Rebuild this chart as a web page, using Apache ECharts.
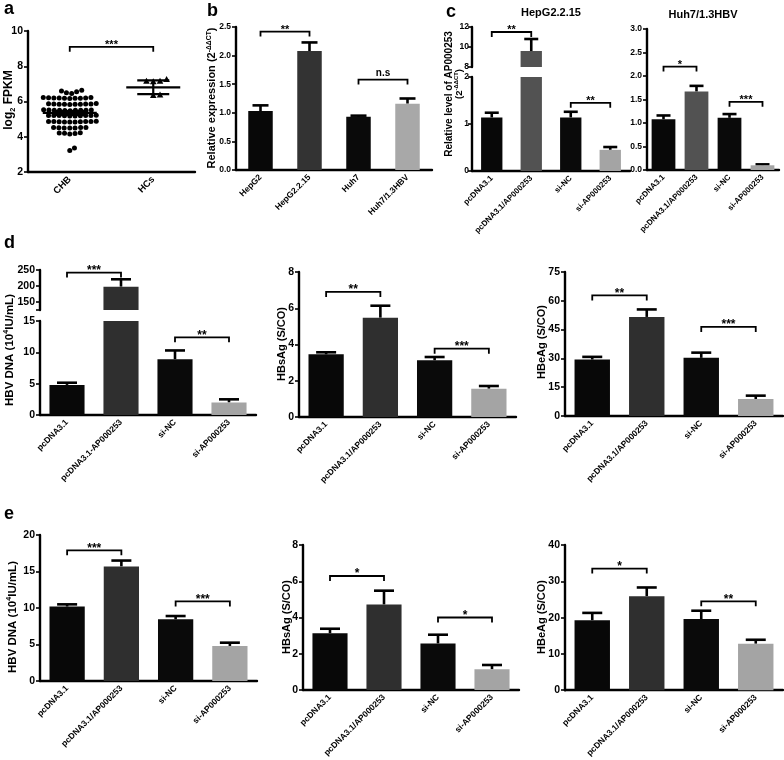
<!DOCTYPE html>
<html>
<head>
<meta charset="utf-8">
<script src="https://cdn.jsdelivr.net/npm/echarts@6/dist/echarts.min.js"></script>
<style>
  html, body { margin: 0; padding: 0; background: #fff; }
  #chart { width: 784px; height: 760px; }
</style>
</head>
<body>
<div id="chart"></div>
<script>
const FONT = 'Liberation Sans, Arial, sans-serif';

// a: log2 FPKM scatter
const aCats = ['CHB', 'HCs'];
const chbValues = [
  6.64, 6.56, 6.49, 6.45, 6.6,
  6.2, 6.18, 6.22, 6.19, 6.21, 6.17, 6.2, 6.23, 6.18, 6.2,
  5.86, 5.84, 5.88, 5.85, 5.83, 5.87, 5.85, 5.86, 5.84, 5.86,
  5.52, 5.5, 5.53, 5.49, 5.51, 5.5, 5.52, 5.48, 5.51, 5.5,
  5.2, 5.18, 5.21, 5.19, 5.22, 5.2, 5.18, 5.2, 5.21, 5.19,
  4.86, 4.84, 4.87, 4.85, 4.88, 4.85, 4.83, 4.86, 4.84, 4.86,
  4.52, 4.5, 4.53, 4.49, 4.51, 4.5, 4.52,
  4.22, 4.2, 4.18, 4.21, 4.15,
  3.36, 3.22
];
const hcsValues = [7.25, 7.15, 7.12, 7.15, 6.38, 6.35];
const chbSummary = [5.35, 5.24, 5.46];   // mean, low, high
const hcsSummary = [6.8, 6.42, 7.2];
const aBrackets = [[0, 1, 9.1, '***']];

// b: relative expression
const bCats = ['HepG2', 'HepG2.2.15', 'Huh7', 'Huh7/1.3HBV'];
const bMeans = [1.03, 2.08, 0.93, 1.16];
const bErrTop = [1.13, 2.23, 0.95, 1.25];
const bBrackets = [[0, 1, 2.42, '**'], [2, 3, 1.58, 'n.s']];

// c: AP000253 level
const cCats = ['pcDNA3.1', 'pcDNA3.1/AP000253', 'si-NC', 'si-AP000253'];
const cHepMeans = [1.14, 9.6, 1.14, 0.45];
const cHepErrTop = [1.24, 10.8, 1.26, 0.51];
const cHepBracketsTop = [[0, 1, 11.5, '**']];
const cHepBracketsLow = [[2, 3, 1.45, '**']];
const cHuhMeans = [1.08, 1.67, 1.11, 0.1];
const cHuhErrTop = [1.16, 1.79, 1.19, 0.12];
const cHuhBrackets = [[0, 1, 2.2, '*'], [2, 3, 1.45, '***']];

// d
const dCats1 = ['pcDNA3.1', 'pcDNA3.1-AP000253', 'si-NC', 'si-AP000253'];
const dCats = ['pcDNA3.1', 'pcDNA3.1/AP000253', 'si-NC', 'si-AP000253'];
const dDnaMeans = [4.8, 198, 8.9, 2.0];
const dDnaErrTop = [5.15, 221, 10.3, 2.5];
const dDnaBracketsTop = [[0, 1, 242, '***']];
const dDnaBracketsLow = [[2, 3, 12.4, '**']];
const dHbsMeans = [3.46, 5.48, 3.13, 1.56];
const dHbsErrTop = [3.57, 6.14, 3.31, 1.71];
const dHbsBrackets = [[0, 1, 6.9, '**'], [2, 3, 3.77, '***']];
const dHbeMeans = [29.4, 51.6, 30.3, 8.8];
const dHbeErrTop = [30.8, 55.5, 33, 10.6];
const dHbeBrackets = [[0, 1, 62.8, '**'], [2, 3, 46.4, '***']];

// e
const eDnaMeans = [10.2, 15.7, 8.45, 4.8];
const eDnaErrTop = [10.5, 16.5, 8.9, 5.25];
const eDnaBrackets = [[0, 1, 17.9, '***'], [2, 3, 10.9, '***']];
const eHbsMeans = [3.13, 4.72, 2.57, 1.14];
const eHbsErrTop = [3.38, 5.48, 3.05, 1.38];
const eHbsBrackets = [[0, 1, 6.29, '*'], [2, 3, 4.0, '*']];
const eHbeMeans = [19.3, 25.9, 19.6, 12.8];
const eHbeErrTop = [21.3, 28.3, 21.9, 13.9];
const eHbeBrackets = [[0, 1, 33.5, '*'], [2, 3, 24.5, '**']];

const barColors = ['#080808', '#2f2f2f', '#0a0a0a', '#a4a4a4'];
const barColorsB = ['#080808', '#333333', '#0a0a0a', '#a8a8a8'];
const barColorsC = ['#080808', '#525252', '#0a0a0a', '#a4a4a4'];

const grids = [], xAxes = [], yAxes = [], series = [], graphics = [];

function addGrid(rect, xAxis, yAxis) {
  const gi = grids.length;
  grids.push(rect);
  xAxes.push(Object.assign({ gridIndex: gi }, xAxis));
  yAxes.push(Object.assign({ gridIndex: gi }, yAxis));
  return gi;
}

function catAxis(cats, fontSize, show) {
  return {
    type: 'category', data: cats, show: show !== false,
    axisLine: { onZero: false, lineStyle: { color: '#000', width: 2.4 } },
    axisTick: { alignWithLabel: true, length: 4, lineStyle: { color: '#000', width: 1.6 } },
    axisLabel: { rotate: 45, interval: 0, margin: 6, fontSize: fontSize, fontWeight: 'bold', color: '#000', fontFamily: FONT },
    splitLine: { show: false }
  };
}

function valAxis(min, max, interval, fontSize, formatter, extra) {
  return Object.assign({
    type: 'value', min: min, max: max, interval: interval,
    splitLine: { show: false },
    axisLine: { show: true, onZero: false, lineStyle: { color: '#000', width: 2.4 } },
    axisTick: { show: true, length: 4, lineStyle: { color: '#000', width: 1.6 } },
    axisLabel: { margin: 5, fontSize: fontSize, fontWeight: 'bold', color: '#000', fontFamily: FONT, formatter: formatter }
  }, extra || {});
}

function bars(gi, vals, colors, width) {
  series.push({
    type: 'bar', xAxisIndex: gi, yAxisIndex: gi, barWidth: width, clip: true, silent: true,
    data: vals.map((v, i) => ({ value: v, itemStyle: { color: colors[i] } }))
  });
}

function errs(gi, vals, tops, cap, lo, hi) {
  const data = [];
  vals.forEach((v, i) => { if (v >= lo && tops[i] <= hi) data.push([i, v, tops[i]]); });
  series.push({
    type: 'custom', xAxisIndex: gi, yAxisIndex: gi, silent: true, data: data,
    renderItem: (params, api) => {
      const p0 = api.coord([api.value(0), api.value(1)]);
      const p1 = api.coord([api.value(0), api.value(2)]);
      const st = { stroke: '#000', lineWidth: 2.6 };
      return { type: 'group', children: [
        { type: 'line', shape: { x1: p0[0], y1: p0[1], x2: p1[0], y2: p1[1] }, style: st },
        { type: 'line', shape: { x1: p1[0] - cap, y1: p1[1], x2: p1[0] + cap, y2: p1[1] }, style: st }
      ] };
    }
  });
}

function brackets(gi, list, fontSize) {
  series.push({
    type: 'custom', xAxisIndex: gi, yAxisIndex: gi, silent: true,
    data: list.map(b => [b[0], b[1], b[2]]),
    renderItem: (params, api) => {
      const a = api.coord([api.value(0), api.value(2)]);
      const b = api.coord([api.value(1), api.value(2)]);
      const txt = list[params.dataIndex][3];
      const stars = txt.indexOf('*') >= 0;
      return { type: 'group', children: [
        { type: 'polyline', shape: { points: [[a[0], a[1] + 5], [a[0], a[1]], [b[0], b[1]], [b[0], b[1] + 5]] },
          style: { stroke: '#000', lineWidth: 1.8, fill: null } },
        { type: 'text', x: (a[0] + b[0]) / 2, y: stars ? a[1] - 2 : a[1] - 1,
          style: { text: txt, fill: '#000', font: 'bold ' + (stars ? fontSize : fontSize - 1) + 'px ' + FONT,
                   align: 'center', verticalAlign: stars ? 'middle' : 'bottom' } }
      ] };
    }
  });
}

function barPanel(rect, cats, min, max, step, means, tops, br, o) {
  const gi = addGrid(rect, catAxis(cats, o.xFont), valAxis(min, max, step, o.yFont, o.fmt));
  bars(gi, means, o.colors, o.barWidth);
  errs(gi, means, tops, o.cap, min, max);
  brackets(gi, br, o.starFont);
  return gi;
}

function text(str, x, y, size, rotate, align, rich) {
  graphics.push({
    type: 'text', x: x, y: y, rotation: rotate ? Math.PI / 2 : 0, silent: true,
    style: { text: str, fill: '#000', font: 'bold ' + size + 'px ' + FONT, align: align || 'center', verticalAlign: 'middle', rich: rich }
  });
}

function swarm(ys, d) {
  const idx = ys.map((_, i) => i).sort((a, b) => ys[b] - ys[a]);
  const pts = [], xs = [];
  idx.forEach(i => {
    const y = ys[i];
    const near = pts.filter(p => Math.abs(p.y - y) < d);
    const cands = [0];
    near.forEach(p => {
      const dx = Math.sqrt(d * d - (p.y - y) * (p.y - y));
      cands.push(p.x + dx, p.x - dx);
    });
    cands.sort((a, b) => Math.abs(a) - Math.abs(b));
    const x = cands.find(c => near.every(p => (p.x - c) * (p.x - c) + (p.y - y) * (p.y - y) >= d * d - 0.01));
    pts.push({ x: x, y: y });
    xs[i] = x;
  });
  return xs;
}

function swarmSeries(gi, cat, values, shape, d) {
  let offs = null;
  series.push({
    type: 'custom', xAxisIndex: gi, yAxisIndex: gi, silent: true,
    data: values.map(v => [cat, v]),
    renderItem: (params, api) => {
      if (!offs) offs = swarm(values.map(v => api.coord([cat, v])[1]), d);
      const p = api.coord([cat, api.value(1)]);
      const x = p[0] + offs[params.dataIndex], y = p[1];
      if (shape === 'circle') return { type: 'circle', shape: { cx: x, cy: y, r: 2.5 }, style: { fill: '#000' } };
      return { type: 'polygon', shape: { points: [[x, y - 3.4], [x - 3.3, y + 2.6], [x + 3.3, y + 2.6]] }, style: { fill: '#000' } };
    }
  });
}

function rich(size) {
  return {
    sup: { fontSize: size * 0.62, fontWeight: 'bold', fontFamily: FONT, verticalAlign: 'top', lineHeight: size * 1.25 },
    sub: { fontSize: size * 0.62, fontWeight: 'bold', fontFamily: FONT, verticalAlign: 'bottom', lineHeight: size * 1.25 },
    n: { fontSize: size, fontWeight: 'bold', fontFamily: FONT, lineHeight: size * 1.25 }
  };
}

// ---- a ----
const gA = addGrid({ left: 28, top: 31, width: 167, height: 141 }, catAxis(aCats, 9.5), valAxis(2, 10, 2, 10.5));
swarmSeries(gA, 0, chbValues, 'circle', 5.3);
swarmSeries(gA, 1, hcsValues, 'triangle', 6.8);
series.push({
  type: 'custom', xAxisIndex: gA, yAxisIndex: gA, silent: true,
  data: [[0].concat(chbSummary), [1].concat(hcsSummary)],
  renderItem: (params, api) => {
    const m = api.coord([api.value(0), api.value(1)]);
    const lo = api.coord([api.value(0), api.value(2)]);
    const hi = api.coord([api.value(0), api.value(3)]);
    const st = { stroke: '#000', lineWidth: 2.2 };
    return { type: 'group', children: [
      { type: 'line', shape: { x1: m[0] - 27, y1: m[1], x2: m[0] + 27, y2: m[1] }, style: st },
      { type: 'line', shape: { x1: lo[0] - 16, y1: lo[1], x2: lo[0] + 16, y2: lo[1] }, style: st },
      { type: 'line', shape: { x1: hi[0] - 16, y1: hi[1], x2: hi[0] + 16, y2: hi[1] }, style: st },
      { type: 'line', shape: { x1: lo[0], y1: lo[1], x2: hi[0], y2: hi[1] }, style: st }
    ] };
  }
});
brackets(gA, aBrackets, 11);

// ---- b ----
const oRow1 = { xFont: 8.5, yFont: 8.5, starFont: 11, colors: barColorsB, barWidth: '50%', cap: 8 };
barPanel({ left: 236, top: 27, width: 196, height: 143 }, bCats, 0, 2.5, 0.5, bMeans, bErrTop, bBrackets,
  Object.assign({}, oRow1, { fmt: v => v.toFixed(1) }));

// ---- c HepG2.2.15 (broken axis) ----
const cHepRectX = { left: 472, width: 158 };
const gCu = addGrid(Object.assign({ top: 27, height: 40 }, cHepRectX), catAxis(cCats, 8, false), valAxis(8, 12, 2, 8.5));
const gCl = addGrid(Object.assign({ top: 77, height: 94 }, cHepRectX), catAxis(cCats, 8), valAxis(0, 2, 1, 8.5));
yAxes[gCu].axisLabel.margin = 3;
yAxes[gCl].axisLabel.margin = 3;
[gCu, gCl].forEach((g, k) => {
  bars(g, cHepMeans, barColorsC, '54%');
  errs(g, cHepMeans, cHepErrTop, 7, k === 0 ? 8 : 0, k === 0 ? 12 : 2);
});
brackets(gCu, cHepBracketsTop, 11);
brackets(gCl, cHepBracketsLow, 11);

// ---- c Huh7/1.3HBV ----
barPanel({ left: 647, top: 29, width: 132, height: 141 }, cCats, 0, 3, 0.5, cHuhMeans, cHuhErrTop, cHuhBrackets,
  Object.assign({}, oRow1, { xFont: 8, colors: barColorsC, barWidth: '72%', cap: 7, fmt: v => v.toFixed(1) }));

// ---- d HBV DNA (broken axis) ----
const oRow = { xFont: 8.5, yFont: 10.5, starFont: 12, colors: barColors, barWidth: '65%', cap: 10 };
const dRectX = { left: 40, width: 216 };
const gDu = addGrid(Object.assign({ top: 270, height: 40 }, dRectX), catAxis(dCats1, 8.5, false),
  valAxis(125, 250, null, 10.5, null, {
    axisTick: { show: true, length: 4, customValues: [125, 150, 200, 250], lineStyle: { color: '#000', width: 1.6 } },
    axisLabel: { margin: 5, fontSize: 10.5, fontWeight: 'bold', color: '#000', fontFamily: FONT, customValues: [150, 200, 250] }
  }));
const gDl = addGrid(Object.assign({ top: 321, height: 94 }, dRectX), catAxis(dCats1, 8.5), valAxis(0, 15, 5, 10.5));
[gDu, gDl].forEach((g, k) => {
  bars(g, dDnaMeans, barColors, '65%');
  errs(g, dDnaMeans, dDnaErrTop, 10, k === 0 ? 125 : 0, k === 0 ? 250 : 15);
});
brackets(gDu, dDnaBracketsTop, 12);
brackets(gDl, dDnaBracketsLow, 12);

barPanel({ left: 299, top: 272, width: 217, height: 145 }, dCats, 0, 8, 2, dHbsMeans, dHbsErrTop, dHbsBrackets, oRow);
barPanel({ left: 565, top: 272, width: 218, height: 144 }, dCats, 0, 75, 15, dHbeMeans, dHbeErrTop, dHbeBrackets, oRow);

// ---- e ----
barPanel({ left: 40, top: 535, width: 217, height: 146 }, dCats, 0, 20, 5, eDnaMeans, eDnaErrTop, eDnaBrackets, oRow);
barPanel({ left: 303, top: 545, width: 216, height: 145 }, dCats, 0, 8, 2, eHbsMeans, eHbsErrTop, eHbsBrackets, oRow);
barPanel({ left: 565, top: 545, width: 218, height: 146 }, dCats, 0, 40, 10, eHbeMeans, eHbeErrTop, eHbeBrackets, oRow);

// ---- texts ----
text('a', 4, 9, 18, false, 'left');
text('b', 207, 11, 18, false, 'left');
text('c', 446, 12, 18, false, 'left');
text('d', 4, 243, 18, false, 'left');
text('e', 4, 514, 18, false, 'left');
text('HepG2.2.15', 551, 13, 11);
text('Huh7/1.3HBV', 703, 15, 11);

text('{n|log}{sub|2}{n| FPKM}', 9, 100, 12, true, 'center', rich(12));
text('{n|Relative expression (2}{sup|-ΔΔCT}{n|)}', 212, 98, 11, true, 'center', rich(11));
text('Relative level of AP000253', 449, 94, 10, true);
text('{n|(2}{sup|-ΔΔCT}{n|)}', 459, 84, 9.5, true, 'center', rich(9.5));
text('{n|HBV DNA (10}{sup|4}{n|IU/mL)}', 10, 350, 11.5, true, 'center', rich(11.5));
text('HBsAg (S/CO)', 282, 344, 11, true);
text('HBeAg (S/CO)', 542, 342, 11, true);
text('{n|HBV DNA (10}{sup|4}{n|IU/mL)}', 13, 617, 11.5, true, 'center', rich(11.5));
text('HBsAg (S/CO)', 287, 617, 11, true);
text('HBeAg (S/CO)', 542, 617, 11, true);

const chart = echarts.init(document.getElementById('chart'));
chart.setOption({
  backgroundColor: '#fff',
  animation: false,
  grid: grids,
  xAxis: xAxes,
  yAxis: yAxes,
  series: series,
  graphic: graphics
});
</script>
</body>
</html>
